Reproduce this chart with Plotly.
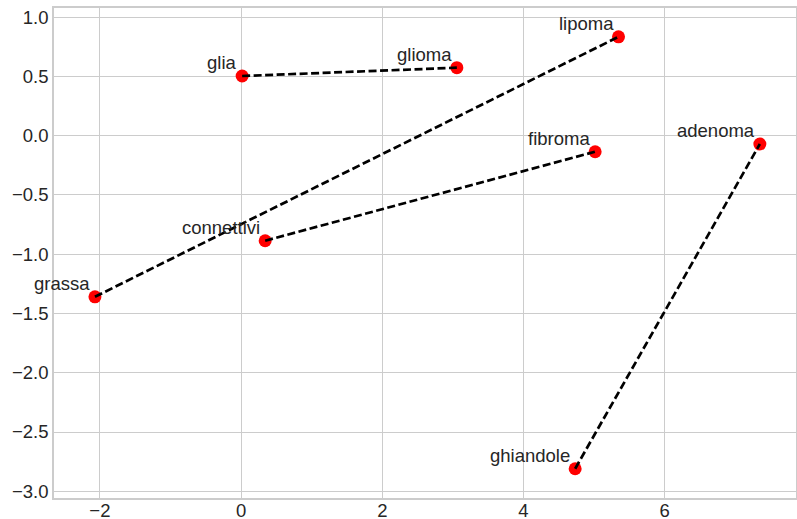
import plotly.graph_objects as go

words = ["glia", "glioma", "lipoma", "fibroma", "adenoma", "grassa", "connettivi", "ghiandole"]
xs = [0.015, 3.056, 5.346, 5.015, 7.348, -2.07, 0.341, 4.732]
ys = [0.504, 0.574, 0.835, -0.135, -0.070, -1.359, -0.886, -2.81]
pairs = [("glia", "glioma"), ("grassa", "lipoma"), ("connettivi", "fibroma"), ("ghiandole", "adenoma")]

idx = {w: i for i, w in enumerate(words)}

fig = go.Figure()
fig.add_trace(go.Scatter(x=xs, y=ys, mode="markers",
                         marker=dict(color="red", size=13, line=dict(width=0)),
                         showlegend=False, hoverinfo="skip"))
for a, b in pairs:
    i, j = idx[a], idx[b]
    fig.add_trace(go.Scatter(x=[xs[i], xs[j]], y=[ys[i], ys[j]], mode="lines",
                             line=dict(color="black", width=2.7, dash="8px,3.5px"),
                             showlegend=False, hoverinfo="skip"))

for w, x, y in zip(words, xs, ys):
    fig.add_annotation(x=x, y=y, text=w, showarrow=False, xanchor="right", yanchor="bottom",
                       xshift=-3, yshift=1,
                       font=dict(family="Liberation Sans, Arial", size=18.5, color="#262626"))

axis_common = dict(showgrid=True, gridcolor="#cccccc", gridwidth=1.2, zeroline=False,
                   showline=True, linecolor="#cccccc", linewidth=1.5, mirror=True,
                   ticks="", tickfont=dict(family="Liberation Sans, Arial", size=18.5, color="#262626"))

fig.update_xaxes(range=[-2.65, 7.86], tickvals=[-2, 0, 2, 4, 6], ticklabelstandoff=-5, **axis_common)
fig.update_yaxes(range=[-3.057, 1.078], tickvals=[1.0, 0.5, 0.0, -0.5, -1.0, -1.5, -2.0, -2.5, -3.0],
                 tickformat=".1f", **axis_common)

fig.update_layout(width=797, height=519, margin=dict(l=54, r=1, t=8, b=21, autoexpand=False),
                  plot_bgcolor="white", paper_bgcolor="white")
fig.write_html("out.html", config={"displayModeBar": False},
               post_script="document.body.style.margin='0';document.body.style.overflow='hidden';")
